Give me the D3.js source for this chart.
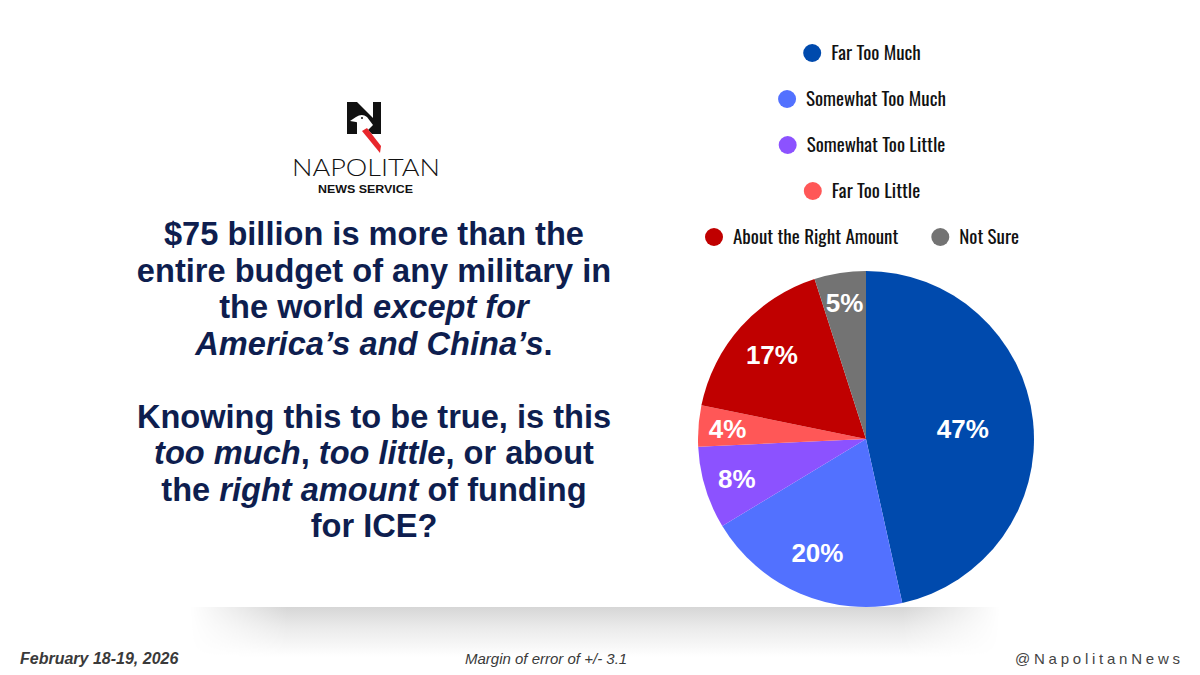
<!DOCTYPE html>
<meta charset="utf-8">
<style>
 body { margin: 0; background: #fff; }
 svg { display: block; }
 .title { font-family: "Liberation Sans", Arial, sans-serif; font-weight: 700; font-size: 32.6px; fill: #0e1e4f; }
 .legend text { font-family: Oswald, "Liberation Sans Narrow", "DejaVu Sans Condensed", sans-serif; font-size: 19px; fill: #111; }
 .slice-label { font-family: "Liberation Sans", Arial, sans-serif; font-weight: 700; font-size: 26px; fill: #fff; }
 .foot { font-family: "Liberation Sans", Arial, sans-serif; fill: #3a3a3a; }
</style>
<body>
  <div id="chart"></div>
  <script src="https://cdnjs.cloudflare.com/ajax/libs/d3/7.8.5/d3.min.js"></script>
  <script>
(function(){

  // data
  var categories = ["Far Too Much", "Somewhat Too Much", "Somewhat Too Little", "Far Too Little", "About the Right Amount", "Not Sure"];
  var values = [47, 20, 8, 4, 17, 5];
  var colors = ["#004aad", "#5271ff", "#8c52ff", "#ff5757", "#c00000", "#737373"];
  var legendRows = [[0], [1], [2], [3], [4, 5]];

  // question text, each line is a list of [text, italic] runs
  var titleLines = [
    [["$75 billion is more than the", false]],
    [["entire budget of any military in", false]],
    [["the world ", false], ["except for", true]],
    [["America\u2019s and China\u2019s", true], [".", false]],
    [],
    [["Knowing this to be true, is this", false]],
    [["too much", true], [", ", false], ["too little", true], [", or about", false]],
    [["the ", false], ["right amount", true], [" of funding", false]],
    [["for ICE?", false]]
  ];

  var width = 1200, height = 675;

  var svg = d3.select("#chart").append("svg")
      .attr("width", width)
      .attr("height", height);

  var defs = svg.append("defs");

  // soft shadow under the card
  var vg = defs.append("linearGradient").attr("id", "shadeV")
      .attr("x1", 0).attr("y1", 0).attr("x2", 0).attr("y2", 1);
  vg.append("stop").attr("offset", "0%").attr("stop-color", "#d6d6d6");
  vg.append("stop").attr("offset", "40%").attr("stop-color", "#eaeaea");
  vg.append("stop").attr("offset", "100%").attr("stop-color", "#ffffff");

  var hg = defs.append("linearGradient").attr("id", "shadeH")
      .attr("x1", 0).attr("y1", 0).attr("x2", 1).attr("y2", 0);
  hg.append("stop").attr("offset", "0%").attr("stop-color", "#000");
  hg.append("stop").attr("offset", "12%").attr("stop-color", "#fff");
  hg.append("stop").attr("offset", "88%").attr("stop-color", "#fff");
  hg.append("stop").attr("offset", "100%").attr("stop-color", "#000");

  defs.append("mask").attr("id", "shadeMask")
      .attr("maskUnits", "userSpaceOnUse")
      .append("rect")
      .attr("x", 190).attr("y", 600).attr("width", 810).attr("height", 60)
      .attr("fill", "url(#shadeH)");

  svg.append("rect")
      .attr("x", 190).attr("y", 607).attr("width", 810).attr("height", 50)
      .attr("fill", "url(#shadeV)")
      .attr("mask", "url(#shadeMask)");

  // logo
  var logo = svg.append("g").attr("class", "logo");
  logo.append("path")
      .attr("d", "M347,102 L357,102 L373,118 L373,102 L381,102 L381,134 L372,134 L357,119 L357,134 L347,134 Z")
      .attr("fill", "#111");
  logo.append("path")
      .attr("d", "M350,121 L356,117 Q362,113 367,117 L373,125 L367,131 L361,124 L356,122 Z")
      .attr("fill", "#fff");
  logo.append("circle").attr("cx", 362).attr("cy", 118).attr("r", 1).attr("fill", "#111");
  logo.append("path")
      .attr("d", "M362,131 L367,128 L381,146 L380,153 Z")
      .attr("fill", "#e8262b");
  logo.append("text")
      .attr("x", 292).attr("y", 176)
      .attr("textLength", 148).attr("lengthAdjust", "spacingAndGlyphs")
      .style("font-family", "Lato, 'Open Sans', sans-serif")
      .style("font-weight", 300)
      .style("font-size", "24px")
      .style("fill", "#111")
      .text("NAPOLITAN");
  logo.append("text")
      .attr("x", 318).attr("y", 193)
      .attr("textLength", 95).attr("lengthAdjust", "spacingAndGlyphs")
      .style("font-family", "'Liberation Sans', Arial, sans-serif")
      .style("font-weight", 700)
      .style("font-size", "11.5px")
      .style("fill", "#111")
      .text("NEWS SERVICE");

  // question
  var title = svg.append("text").attr("class", "title").attr("text-anchor", "middle");
  titleLines.forEach(function(line, i) {
    var first = true;
    line.forEach(function(run) {
      var t = title.append("tspan")
          .style("font-style", run[1] ? "italic" : "normal")
          .text(run[0]);
      if (first) { t.attr("x", 374).attr("y", 245 + i * 36.5); first = false; }
    });
  });

  // pie
  var cx = 866, cy = 439, radius = 168;
  var total = d3.sum(values);

  var pie = d3.pie().sort(null).value(function(d) { return d; });
  var arcs = pie(values);
  var arc = d3.arc().innerRadius(0).outerRadius(radius);

  var g = svg.append("g").attr("transform", "translate(" + cx + "," + cy + ")");

  g.selectAll("path.slice")
      .data(arcs)
    .enter().append("path")
      .attr("class", "slice")
      .attr("d", arc)
      .attr("fill", function(d, i) { return colors[i]; });

  g.selectAll("text.slice-label")
      .data(arcs)
    .enter().append("text")
      .attr("class", "slice-label")
      .attr("text-anchor", "middle")
      .attr("dy", "0.36em")
      .attr("transform", function(d) {
        var frac = d.value / total;
        var r = radius * (0.85 - 0.58 * frac);
        var a = (d.startAngle + d.endAngle) / 2;
        return "translate(" + (r * Math.sin(a)) + "," + (-r * Math.cos(a)) + ")";
      })
      .text(function(d) { return d.value + "%"; });

  // legend
  var legend = svg.append("g").attr("class", "legend");
  var legendCx = 862, rowTop = 53, rowGap = 46, dotR = 9, textGap = 10, itemGap = 33;

  legendRows.forEach(function(row, ri) {
    var rowG = legend.append("g");
    var items = row.map(function(idx) {
      var it = rowG.append("g");
      it.append("circle").attr("r", dotR).attr("cx", dotR).attr("cy", 0).attr("fill", colors[idx]);
      var t = it.append("text")
          .attr("x", dotR * 2 + textGap)
          .attr("y", 6.5)
          .text(categories[idx]);
      var w = dotR * 2 + textGap + t.node().getComputedTextLength();
      return { g: it, w: w };
    });
    var rowW = d3.sum(items, function(d) { return d.w; }) + itemGap * (items.length - 1);
    var x = legendCx - rowW / 2;
    items.forEach(function(it) {
      it.g.attr("transform", "translate(" + x + "," + (rowTop + ri * rowGap) + ")");
      x += it.w + itemGap;
    });
  });

  // footer
  svg.append("text").attr("class", "foot")
      .attr("x", 20).attr("y", 664)
      .style("font-weight", 700).style("font-style", "italic").style("font-size", "16px")
      .text("February 18-19, 2026");
  svg.append("text").attr("class", "foot")
      .attr("x", 465).attr("y", 664)
      .style("font-style", "italic").style("font-size", "15px")
      .text("Margin of error of +/- 3.1");
  svg.append("text").attr("class", "foot")
      .attr("x", 1015).attr("y", 664)
      .attr("textLength", 165).attr("lengthAdjust", "spacing")
      .style("font-size", "15px").style("fill", "#444")
      .text("@NapolitanNews");

})();
  </script>
</body>
